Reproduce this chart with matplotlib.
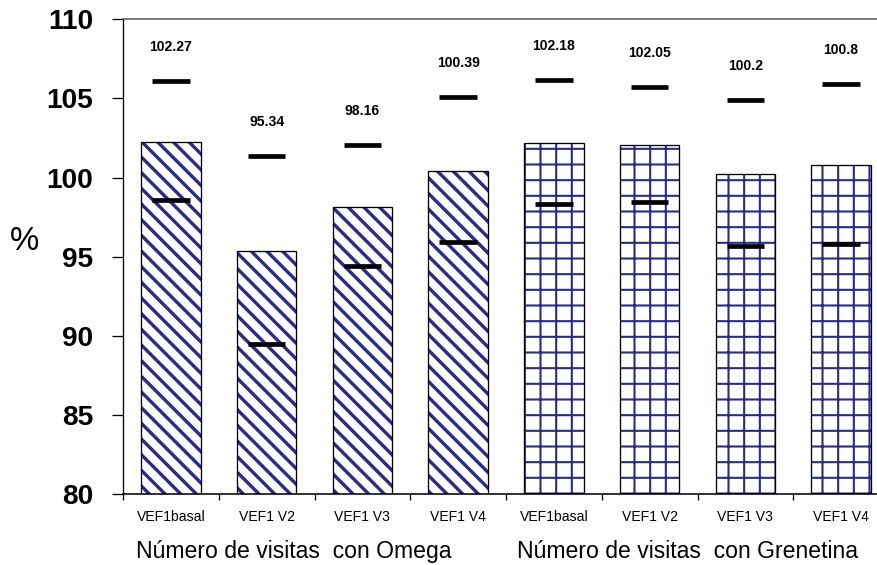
import matplotlib
matplotlib.use('Agg')
import matplotlib.pyplot as plt
import numpy as np

# ---- data ----
categories = ['VEF1basal', 'VEF1 V2', 'VEF1 V3', 'VEF1 V4',
              'VEF1basal', 'VEF1 V2', 'VEF1 V3', 'VEF1 V4']
groups = ['Número de visitas  con Omega', 'Número de visitas  con Grenetina']
means = [102.27, 95.34, 98.16, 100.39, 102.18, 102.05, 100.2, 100.8]
upper = [106.08, 101.38, 102.08, 105.07, 106.18, 105.74, 104.88, 105.91]
lower = [98.57, 89.50, 94.44, 95.91, 98.30, 98.47, 95.66, 95.80]
value_labels = ['102.27', '95.34', '98.16', '100.39', '102.18', '102.05', '100.2', '100.8']
yticks = [80, 85, 90, 95, 100, 105, 110]

DPI = 94
W, H = 877, 565


def pt(px):
    return px * 72.0 / DPI


plt.rcParams['font.family'] = ['Liberation Sans', 'DejaVu Sans']

HATCH = '#2b2b8c'

fig = plt.figure(figsize=(W / DPI, H / DPI), dpi=DPI)
ax = fig.add_axes([123 / W, 71 / H, (889 - 123) / W, (494 - 19.3) / H])

x = np.arange(len(categories))
hatches = ['\\\\'] * 4 + ['+'] * 4
hatch_lw = [2.6] * 4 + [1.6] * 4
bw = 0.62
for i in range(len(x)):
    with plt.rc_context({'hatch.linewidth': hatch_lw[i]}):
        ax.bar(x[i], means[i], width=bw, facecolor='white', edgecolor=HATCH,
               linewidth=0, hatch=hatches[i], zorder=2)
ax.bar(x, means, width=bw, fill=False, edgecolor='black', linewidth=1.0, zorder=3)

hw = 0.197
ax.hlines(upper, x - hw, x + hw, colors='black', linewidth=3.6, zorder=4)
ax.hlines(lower, x - hw, x + hw, colors='black', linewidth=3.6, zorder=4)

for i in range(len(x)):
    ax.annotate(value_labels[i], (x[i], upper[i]), xytext=(0, pt(34)),
                textcoords='offset points', ha='center', va='center',
                fontsize=pt(14), fontweight='bold')

ax.set_ylim(80, 110)
ax.set_xlim(-0.5, len(x) - 0.5)

ax.set_yticks(yticks)
ax.tick_params(axis='y', length=pt(11), width=1, direction='out',
               labelsize=pt(28), pad=pt(19))
for lab in ax.get_yticklabels():
    lab.set_fontweight('bold')

ax.set_xticks(np.arange(-0.5, len(x), 1.0))
ax.set_xticklabels([])
ax.tick_params(axis='x', which='major', length=pt(6), width=1, direction='out')
ax.set_xticks(x, minor=True)
ax.set_xticklabels(categories, minor=True)
ax.tick_params(axis='x', which='minor', length=0, pad=pt(16), labelsize=pt(14))

ax.spines['right'].set_visible(False)
ax.spines['top'].set_color('#5a5a5a')
ax.spines['top'].set_linewidth(1.2)
ax.spines['left'].set_linewidth(1.0)
ax.spines['bottom'].set_linewidth(1.2)

fig.text(10 / W, 1 - 241.5 / H, '%', fontsize=pt(33), ha='left', va='center')
fig.text(293.5 / W, 1 - 558 / H, groups[0], fontsize=pt(23), ha='center', va='baseline')
fig.text(687 / W, 1 - 558 / H, groups[1], fontsize=pt(23), ha='center', va='baseline')

fig.savefig('out.png', dpi=DPI)
